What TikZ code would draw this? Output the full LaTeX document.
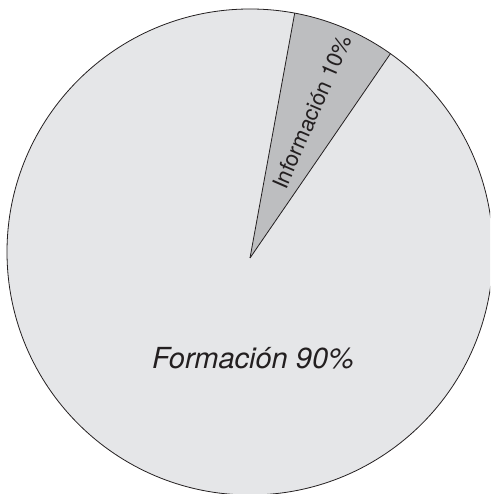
\documentclass[tikz,border=0pt]{standalone}
\usepackage{fontspec}
\setmainfont{TeX Gyre Heros}
\usetikzlibrary{calc}
\definecolor{formfill}{HTML}{E5E6E8}
\definecolor{infofill}{HTML}{BDBEC0}
\definecolor{edge}{HTML}{231F20}

\begin{document}
\begin{tikzpicture}[x=1pt, y=1pt, rim/.style={draw=edge, line width=.8pt}]
   \useasboundingbox (0,0) rectangle (490,494);
   \clip (0,0) rectangle (490,494);
   \coordinate (c) at (250,242);
   \coordinate (apex) at (250,236);
   \coordinate (a) at ($(c)+(79.4:243)$);
   \coordinate (b) at ($(c)+(54.7:243)$);
 % slices
   \fill [formfill] (c) circle (243);
   \fill [infofill] (apex) -- (a) arc (79.4:54.7:243) -- cycle;
   \draw [rim] (c) circle (243);
   \draw [rim] (apex) -- (a);
   \draw [rim] (apex) -- (b);
 % labels
   \node (form) [text=edge] at (253,136) {\fontsize{29}{29}\selectfont\itshape Formación 90\%};
   \node (info) [text=edge, rotate=66.5] at (312,382) {\fontsize{22}{22}\selectfont Información 10\%};
\end{tikzpicture}
\end{document}
